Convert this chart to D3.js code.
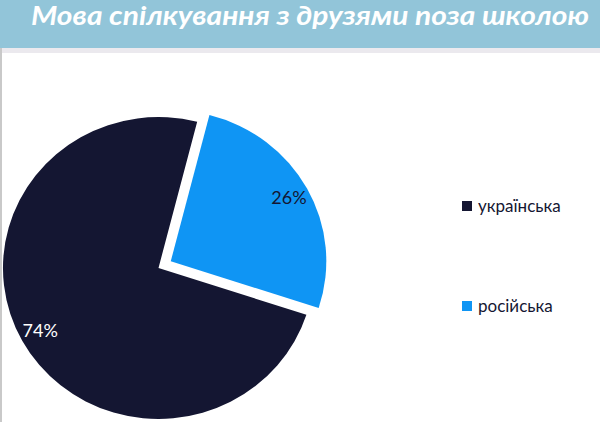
<!DOCTYPE html>
<html>
<head>
<meta charset="utf-8">
<script src="https://cdn.jsdelivr.net/npm/d3@7"></script>
<style>
  body { margin: 0; background: #fff; }
  svg { display: block; }
</style>
</head>
<body>
<div id="chart"></div>
<script>
var width = 600,
    height = 422;

// data
var categories = ["українська", "російська"];
var values = [74, 26];
var colors = ["#141632", "#0f95f4"];
var title = "Мова спілкування з друзями поза школою";

var svg = d3.select("#chart")
    .append("svg")
    .attr("width", width)
    .attr("height", height);

// title band
svg.append("rect")
    .attr("x", 0).attr("y", 0)
    .attr("width", width).attr("height", 48)
    .attr("fill", "#92c5d9");
svg.append("rect")
    .attr("x", 0).attr("y", 48)
    .attr("width", width).attr("height", 5)
    .attr("fill", "#ebe9ee");
// thin grey edge at left
svg.append("rect")
    .attr("x", 0).attr("y", 48)
    .attr("width", 2).attr("height", height - 48)
    .attr("fill", "#c9c9c9");

svg.append("text")
    .attr("x", 31)
    .attr("y", 25)
    .attr("font-family", "Lato, 'Open Sans', sans-serif")
    .attr("font-style", "italic")
    .attr("font-weight", "bold")
    .attr("font-size", 26)
    .attr("fill", "#fff")
    .attr("textLength", 558)
    .attr("lengthAdjust", "spacingAndGlyphs")
    .text(title);

// pie (slightly wider than tall, like the source slide)
var cx = 158.5, cy = 268, radius = 151, stretch = 1.03, explode = 14;

var startA = 108 * Math.PI / 180;
var pie = d3.pie()
    .sort(null)
    .startAngle(startA)
    .endAngle(startA + 2 * Math.PI);

var arc = d3.arc().innerRadius(0).outerRadius(radius);
var labelR = 131;

var arcs = pie(values);

var g = svg.append("g").attr("transform", "translate(" + cx + "," + cy + ")");

function mid(d) { return (d.startAngle + d.endAngle) / 2; }

var slice = g.selectAll(".slice")
    .data(arcs)
    .enter()
    .append("g")
    .attr("class", "slice")
    .attr("transform", function(d, i) {
        if (i === 0) return null;
        return "translate(" + (Math.sin(mid(d)) * explode) + "," + (-Math.cos(mid(d)) * explode) + ")";
    });

slice.append("path")
    .attr("d", arc)
    .attr("transform", "scale(" + stretch + ",1)")
    .attr("fill", function(d, i) { return colors[i]; });

slice.append("text")
    .attr("x", function(d) { return Math.sin(mid(d)) * labelR * stretch; })
    .attr("y", function(d) { return -Math.cos(mid(d)) * labelR; })
    .attr("text-anchor", "middle")
    .attr("dy", "0.35em")
    .attr("font-family", "Lato, 'Open Sans', sans-serif")
    .attr("font-size", 18)
    .attr("fill", function(d, i) { return i === 0 ? "#fff" : "#141632"; })
    .text(function(d, i) { return values[i] + "%"; });

// legend
var legendY = [206, 306];
var legend = svg.selectAll(".legend")
    .data(categories)
    .enter()
    .append("g")
    .attr("class", "legend")
    .attr("transform", function(d, i) { return "translate(462," + legendY[i] + ")"; });

legend.append("rect")
    .attr("x", 0).attr("y", -5)
    .attr("width", 10).attr("height", 10)
    .attr("fill", function(d, i) { return colors[i]; });

legend.append("text")
    .attr("x", 16)
    .attr("y", 6)
    .attr("font-family", "Lato, 'Open Sans', sans-serif")
    .attr("font-size", 17)
    .attr("fill", "#141632")
    .text(function(d) { return d; });
</script>
</body>
</html>
